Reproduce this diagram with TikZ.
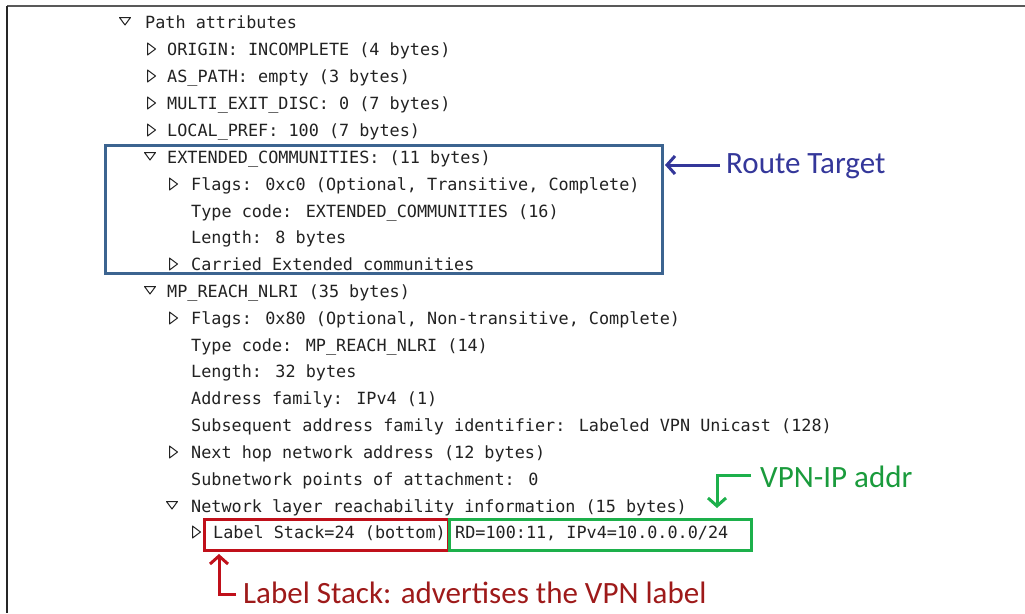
\documentclass[tikz,border=0pt]{standalone}
\usepackage{fontspec}
\usetikzlibrary{arrows.meta}
\newfontfamily\wsmono{DejaVu Sans Mono}
\newfontfamily\annot{Carlito}
\definecolor{frameblue}{HTML}{3C6490}
\definecolor{rtblue}{HTML}{34379A}
\definecolor{boxred}{HTML}{C0101A}
\definecolor{txtred}{HTML}{9E1A1A}
\definecolor{boxgreen}{HTML}{1DB04B}
\definecolor{txtgreen}{HTML}{1A9B3C}
\definecolor{ink}{HTML}{222222}
\tikzset{
  row/.style={anchor=base west, inner sep=0pt, text=ink, font=\wsmono\fontsize{16.8}{18}\selectfont},
  hlbox/.style={draw, line width=3pt, inner sep=0pt},
  note/.style={anchor=west, inner sep=0pt, font=\annot\fontsize{31}{34}\selectfont},
  callout/.style={line width=3pt, line join=miter, -{Straight Barb[length=8pt,width=18pt]}},
  tri/.style={draw=ink, line width=1pt, line join=round},
}
\newcommand{\opentri}[2]{\draw[tri] (#1-5.5,#2-3.5) -- (#1+5.5,#2-3.5) -- (#1,#2+4) -- cycle;}
\newcommand{\closedtri}[2]{\draw[tri] (#1-3.5,#2-6) -- (#1+4.5,#2) -- (#1-3.5,#2+6) -- cycle;}
\begin{document}
\begin{tikzpicture}[x=1pt,y=-1pt]
\useasboundingbox (0,0) rectangle (1025,613);
\fill[white] (0,0) rectangle (1025,613);
% window frame
\draw[line width=1.5pt, draw=black!65] (7,6) -- (1025,6);
\draw[line width=2pt, draw=black!85] (7,6) -- (7,613);

% tree rows
\opentri{125}{21}
\node[row] (r1) at (145,28) {Path attributes};
\closedtri{151}{49}
\node[row] (r2) at (167,55) {ORIGIN: INCOMPLETE (4 bytes)};
\closedtri{151}{76}
\node[row] (r3) at (167,82) {AS\_PATH: empty (3 bytes)};
\closedtri{151}{103}
\node[row] (r4) at (167,109) {MULTI\_EXIT\_DISC: 0 (7 bytes)};
\closedtri{151}{130}
\node[row] (r5) at (167,136) {LOCAL\_PREF: 100 (7 bytes)};
\opentri{150}{156}
\node[row] (r6) at (167,163) {EXTENDED\_COMMUNITIES: (11 bytes)};
\closedtri{173}{184}
\node[row] (r7) at (191,190) {Flags: 0xc0 (Optional, Transitive, Complete)};
\node[row] (r8) at (191,217) {Type code: EXTENDED\_COMMUNITIES (16)};
\node[row] (r9) at (191,243) {Length: 8 bytes};
\closedtri{173}{264}
\node[row] (r10) at (191,270) {Carried Extended communities};
\opentri{150}{290}
\node[row] (r11) at (167,297) {MP\_REACH\_NLRI (35 bytes)};
\closedtri{173}{318}
\node[row] (r12) at (191,324) {Flags: 0x80 (Optional, Non-transitive, Complete)};
\node[row] (r13) at (191,351) {Type code: MP\_REACH\_NLRI (14)};
\node[row] (r14) at (191,377) {Length: 32 bytes};
\node[row] (r15) at (191,404) {Address family: IPv4 (1)};
\node[row] (r16) at (191,431) {Subsequent address family identifier: Labeled VPN Unicast (128)};
\closedtri{173}{452}
\node[row] (r17) at (191,458) {Next hop network address (12 bytes)};
\node[row] (r18) at (191,485) {Subnetwork points of attachment: 0};
\opentri{172}{505}
\node[row] (r19) at (191,512) {Network layer reachability information (15 bytes)};
\closedtri{196}{532}
\node[row] (r20) at (213,538) {Label Stack=24 (bottom)};
\node[row] (r21) at (455,538) {RD=100:11, IPv4=10.0.0.0/24};

% highlight boxes
\node[hlbox, draw=frameblue, minimum width=557pt, minimum height=128pt] (bluebox) at (383.5,209.5) {};
\node[hlbox, draw=boxred, minimum width=244pt, minimum height=31pt] (redbox) at (326.5,535) {};
\node[hlbox, draw=boxgreen, minimum width=302pt, minimum height=31pt] (greenbox) at (600.5,535) {};

% annotations
\node[note, text=rtblue] (rt) at (726,166) {Route Target};
\node[note, text=txtgreen] (vpn) at (760,477) {VPN-IP addr};
\node[note, text=txtred] (ls) at (243,593) {Label Stack: advertises the VPN label};

% callout arrows
\coordinate (rtstart) at (720,165);
\coordinate (rttip) at (665,165);
\draw[callout, draw=rtblue] (rtstart) -- (rttip);
\coordinate (gstart) at (751,475);
\coordinate (gbend) at (717,475);
\coordinate (gtip) at (717,508);
\draw[callout, draw=boxgreen] (gstart) -- (gbend) -- (gtip);
\coordinate (rstart) at (236,594);
\coordinate (rbend) at (219,594);
\coordinate (rtip2) at (219,554);
\draw[callout, draw=boxred] (rstart) -- (rbend) -- (rtip2);
\end{tikzpicture}
\end{document}
